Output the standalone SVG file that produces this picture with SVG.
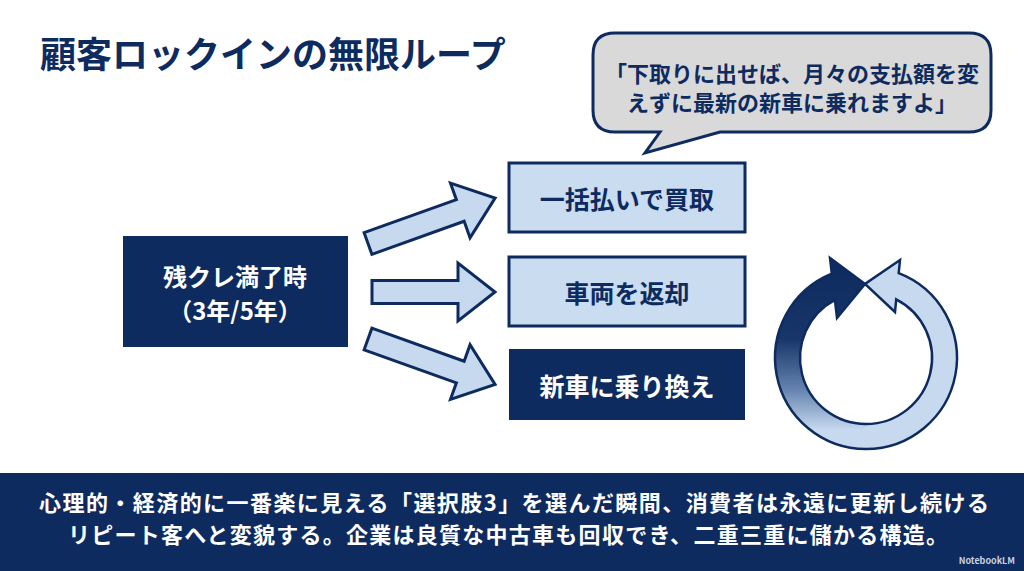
<svg xmlns="http://www.w3.org/2000/svg" width="1024" height="571" viewBox="0 0 1024 571">
  <defs>
    <style>
      text { font-family: "Noto Sans CJK JP", "Noto Sans", sans-serif; font-weight: 700; }
      .navy { fill: #0e2b5f; }
      .white { fill: #ffffff; }
      .light-box { fill: #c9dcf0; stroke: #0e2b5f; stroke-width: 3; }
      .dark-box { fill: #0e2b5f; }
      .arrow { fill: #c6d9ef; stroke: #0e2b5f; stroke-width: 3; stroke-linejoin: miter; }
      .center { text-anchor: middle; dominant-baseline: central; }
    </style>
    <linearGradient id="loopGrad" gradientUnits="userSpaceOnUse" x1="0" y1="265" x2="0" y2="430">
      <stop offset="0" stop-color="#0e2b5f"/>
      <stop offset="0.45" stop-color="#183669"/>
      <stop offset="0.75" stop-color="#6482ad"/>
      <stop offset="1" stop-color="#c6d9ef"/>
    </linearGradient>
  </defs>

  <rect x="0" y="0" width="1024" height="571" fill="#ffffff"/>

  <g id="title">
    <text x="40" y="52" font-size="36" class="navy" dominant-baseline="central">顧客ロックインの無限ループ</text>
  </g>

  <g id="speech-bubble">
    <path d="M615 33 H969 Q991 33 991 55 V110 Q991 132 969 132 H720 L645 153 L660 132 H615 Q593 132 593 110 V55 Q593 33 615 33 Z" fill="#d9d9d9" stroke="#0e2b5f" stroke-width="3" stroke-linejoin="miter"/>
    <text x="792" y="72" font-size="22" class="navy center">「下取りに出せば、月々の支払額を変</text>
    <text x="792" y="101" font-size="22" class="navy center">えずに最新の新車に乗れますよ」</text>
  </g>

  <g id="node-start">
    <rect x="123" y="236" width="225" height="111" class="dark-box"/>
    <text x="235" y="275" font-size="24" class="white center">残クレ満了時</text>
    <text x="235" y="309" font-size="24" class="white center">（3年/5年）</text>
  </g>

  <g id="node-buyout">
    <rect x="509" y="163" width="236" height="69" class="light-box"/>
    <text x="627" y="198" font-size="25" class="navy center">一括払いで買取</text>
  </g>

  <g id="node-return">
    <rect x="509" y="257" width="236" height="69" class="light-box"/>
    <text x="627" y="292" font-size="25" class="navy center">車両を返却</text>
  </g>

  <g id="node-switch">
    <rect x="509" y="349" width="236" height="71" class="dark-box"/>
    <text x="627" y="385" font-size="25" class="white center">新車に乗り換え</text>
  </g>

  <g id="connectors">
    <polygon class="arrow" transform="translate(368,243.5) rotate(-19.7)" points="0,-11.5 98,-11.5 98,-29 135,0 98,29 98,11.5 0,11.5"/>
    <polygon class="arrow" points="372,280.5 458,280.5 458,263 495,292 458,321 458,303.5 372,303.5"/>
    <polygon class="arrow" transform="translate(368,339) rotate(19.7)" points="0,-11.5 98,-11.5 98,-29 135,0 98,29 98,11.5 0,11.5"/>
  </g>

  <g id="loop-icon">
    <path d="M866 449 A91 91 0 0 0 898.7 273.1 L900 260 L865 284 L895 312 L896.2 299.3 A66 66 0 0 1 866 424 Z" fill="#c6d9ef"/>
    <path d="M866 424 A66 66 0 0 1 834.9 299.8 L837 318 L865 284 L830 258 L831.8 273.7 A91 91 0 0 0 866 449 Z" fill="url(#loopGrad)"/>
    <path d="M866 449 A91 91 0 0 0 898.7 273.1 L900 260 L865 284 L895 312 L896.2 299.3 A66 66 0 0 1 866 424 M866 424 A66 66 0 0 1 834.9 299.8 L837 318 L865 284 L830 258 L831.8 273.7 A91 91 0 0 0 866 449" fill="none" stroke="#0e2b5f" stroke-width="2.5" stroke-linejoin="miter"/>
  </g>

  <g id="footer">
    <rect x="0" y="473" width="1024" height="98" fill="#0e2b5f"/>
    <text x="514" y="501" font-size="22" class="white center" textLength="950" lengthAdjust="spacing">心理的・経済的に一番楽に見える「選択肢3」を選んだ瞬間、消費者は永遠に更新し続ける</text>
    <text x="508" y="533" font-size="22" class="white center" textLength="880" lengthAdjust="spacing">リピート客へと変貌する。企業は良質な中古車も回収でき、二重三重に儲かる構造。</text>
    <text x="1015" y="560" font-size="9" font-weight="400" fill="#c8d0de" text-anchor="end" dominant-baseline="central">NotebookLM</text>
  </g>
</svg>
